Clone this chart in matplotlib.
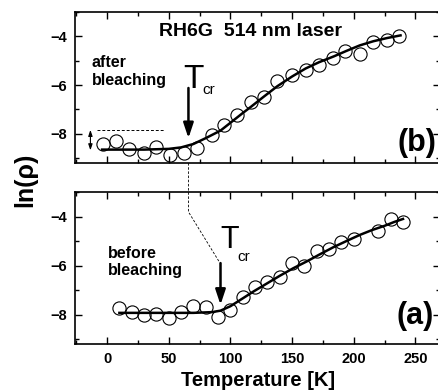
import numpy as np
import matplotlib
matplotlib.use('Agg')
import matplotlib.pyplot as plt
from matplotlib.ticker import MultipleLocator

plt.rcParams['font.family'] = ['Liberation Sans', 'DejaVu Sans']

# (b) after bleaching - measured points
t_after = [-3, 7, 18, 30, 40, 51, 62, 73, 85, 95, 105, 117, 127, 138, 150, 161,
           172, 183, 193, 205, 216, 227, 237]
ln_after = [-8.41, -8.31, -8.61, -8.79, -8.56, -8.87, -8.79, -8.58, -8.04, -7.63,
            -7.22, -6.68, -6.48, -5.82, -5.59, -5.39, -5.16, -4.87, -4.60, -4.71,
            -4.23, -4.13, -3.98]
# (b) fit curve
fit_t_after = [-4, 30, 50, 60, 70, 80, 92, 100, 110, 117, 127, 138, 150, 161, 172,
               184, 194, 205, 216, 227, 238]
fit_ln_after = [-8.65, -8.65, -8.62, -8.56, -8.42, -8.18, -7.87, -7.55, -7.15, -6.88,
                -6.48, -6.05, -5.65, -5.32, -5.06, -4.82, -4.60, -4.37, -4.20, -4.07,
                -3.96]

# (a) before bleaching - measured points
t_before = [10, 20, 30, 40, 50, 60, 70, 80, 90, 100, 110, 120, 130, 140, 150, 160,
            170, 180, 190, 200, 220, 230, 240]
ln_before = [-7.74, -7.89, -8.01, -7.97, -8.14, -7.90, -7.64, -7.71, -8.09, -7.82,
             -7.28, -6.89, -6.68, -6.46, -5.90, -6.03, -5.40, -5.33, -5.04, -4.92,
             -4.60, -4.12, -4.24]
# (a) fit curve
fit_t_before = [10, 40, 70, 85, 92, 100, 110, 119, 130, 140, 151, 162, 173, 184,
                195, 205, 215, 225, 233, 240]
fit_ln_before = [-7.93, -7.93, -7.93, -7.90, -7.84, -7.66, -7.34, -7.05, -6.72, -6.42,
                 -6.11, -5.83, -5.53, -5.24, -4.98, -4.75, -4.55, -4.38, -4.22, -4.10]

W, H = 439, 392
fig = plt.figure(figsize=(W / 100, H / 100), dpi=100)

def px_axes(left, top, right, bottom):
    return fig.add_axes([left / W, 1 - bottom / H, (right - left) / W, (bottom - top) / H])

def style_axis(ax, show_xlabels):
    ax.set_xlim(-26, 270)
    ax.set_ylim(-9.2, -3.0)
    ax.xaxis.set_major_locator(MultipleLocator(50))
    ax.xaxis.set_minor_locator(MultipleLocator(25))
    ax.yaxis.set_major_locator(MultipleLocator(2))
    ax.yaxis.set_minor_locator(MultipleLocator(1))
    ax.tick_params(which='both', direction='in', top=True, right=True, width=1.0)
    ax.tick_params(which='major', length=5, labelsize=10.5, pad=6)
    ax.tick_params(which='minor', length=3)
    ax.tick_params(axis='x', labelbottom=show_xlabels)
    for lab in ax.get_xticklabels() + ax.get_yticklabels():
        lab.set_fontweight('bold')
    for s in ax.spines.values():
        s.set_linewidth(1.2)

def draw_panel(ax, t, ln, fit_t, fit_ln):
    ax.plot(t, ln, 'o', mfc='none', mec='black', ms=9.5, mew=0.8)
    ax.plot(fit_t, fit_ln, '-', color='black', lw=1.8)

ax_b = px_axes(75, 12, 440, 163)
ax_a = px_axes(75, 192, 440, 344)

draw_panel(ax_b, t_after, ln_after, fit_t_after, fit_ln_after)
draw_panel(ax_a, t_before, ln_before, fit_t_before, fit_ln_before)
style_axis(ax_b, False)
style_axis(ax_a, True)

# top panel annotations
ax_b.text(116, -4.0, 'RH6G  514 nm laser', ha='center', va='baseline',
          fontsize=14, fontweight='bold')
ax_b.text(-12.5, -5.45, 'after\nbleaching', ha='left', va='center', fontsize=11.5,
          fontweight='bold', linespacing=1.2)
ax_b.text(62, -6.12, 'T', ha='left', va='baseline', fontsize=24)
ax_b.text(77, -6.35, 'cr', ha='left', va='baseline', fontsize=11)
ax_b.annotate('', xy=(66, -8.18), xytext=(66, -6.12),
              arrowprops=dict(arrowstyle='-|>,head_length=0.9,head_width=0.3',
                              color='black', lw=1.8, shrinkA=0, shrinkB=0))
ax_b.plot([-8, 46], [-7.84, -7.84], '--', color='black', lw=0.7, dashes=(3, 2))
ax_b.annotate('', xy=(-13.5, -8.68), xytext=(-13.5, -7.84),
              arrowprops=dict(arrowstyle='<|-|>,head_length=0.35,head_width=0.12',
                              color='black', lw=0.8, shrinkA=0, shrinkB=0))
ax_b.text(267, -8.38, '(b)', ha='right', va='center', fontsize=22, fontweight='bold')

# bottom panel annotations
ax_a.text(1, -5.85, 'before\nbleaching', ha='left', va='center', fontsize=11.5,
          fontweight='bold', linespacing=1.2)
ax_a.text(91.5, -5.27, 'T', ha='left', va='baseline', fontsize=22)
ax_a.text(106, -5.83, 'cr', ha='left', va='baseline', fontsize=11)
ax_a.annotate('', xy=(92, -7.6), xytext=(92, -5.9),
              arrowprops=dict(arrowstyle='-|>,head_length=0.9,head_width=0.3',
                              color='black', lw=1.8, shrinkA=0, shrinkB=0))
ax_a.text(265, -8.05, '(a)', ha='right', va='center', fontsize=22, fontweight='bold')

# dashed guide linking the two T_cr arrows
ax_a.plot([66, 66, 91], [-1.82, -3.81, -5.85], '--', color='black', lw=0.6,
          dashes=(3, 2), clip_on=False)

fig.text(258 / W, 1 - 386 / H, 'Temperature [K]', ha='center', va='baseline',
         fontsize=14.5, fontweight='bold')
fig.text(25 / W, 1 - 180 / H, 'ln(\u03c1)', ha='center', va='center', rotation=90,
         fontsize=18, fontweight='bold')

fig.savefig('out.png', dpi=100)
